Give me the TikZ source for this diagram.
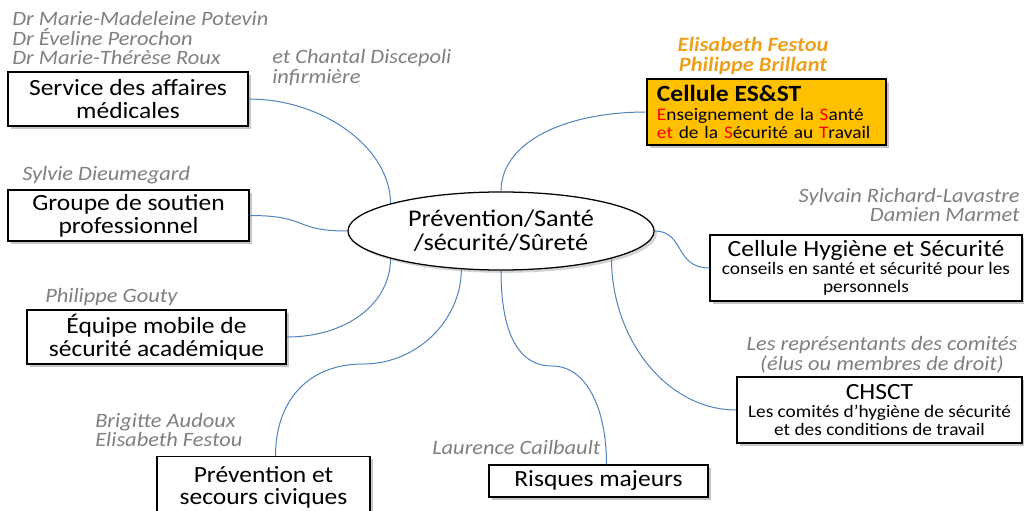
\documentclass[tikz,border=0pt]{standalone}
\usepackage{fontspec}
\setmainfont{Carlito}[FakeStretch=1.1]
\usetikzlibrary{shadows,shapes.geometric,calc}

\definecolor{nomgris}{RGB}{127,127,127}
\definecolor{lienbleu}{RGB}{79,129,189}
\definecolor{cellorange}{RGB}{255,192,0}
\definecolor{nomorange}{RGB}{237,160,30}

\tikzset{
  bloc/.style={draw, line width=0.9pt, fill=white, align=center, inner sep=2pt,
    drop shadow={shadow xshift=2pt, shadow yshift=-2pt, opacity=0.45},
    font=\fontsize{16.5}{16.5}\selectfont},
  sous/.style={font=\fontsize{12.5}{13}\selectfont},
  nom/.style={text=nomgris, inner sep=0pt, font=\itshape\fontsize{14.5}{14.2}\selectfont},
  lien/.style={lienbleu, line width=0.7pt},
}

\begin{document}
\begin{tikzpicture}[x=0.025cm, y=-0.025cm]
    \useasboundingbox (0,0) rectangle (1024,511);
    % centre
    \node[ellipse, draw, line width=0.9pt, fill=white, inner sep=0pt,
      minimum width=7.65cm, minimum height=1.95cm, align=center,
      drop shadow={shadow xshift=2pt, shadow yshift=-2pt, opacity=0.35},
      font=\fontsize{17}{17.2}\selectfont] (cen) at (501,231) {Prévention/Santé\\/sécurité/Sûreté};
    % boites
    \node[bloc, minimum width=6cm, minimum height=1.35cm] (svc) at (128,99) {Service des affaires\\médicales};
    \node[bloc, minimum width=6.025cm, minimum height=1.275cm] (gsp) at (128.5,215.5) {Groupe de soutien\\professionnel};
    \node[bloc, minimum width=6.475cm, minimum height=1.35cm] (emsa) at (156.5,337) {Équipe mobile de\\sécurité académique};
    \node[bloc, minimum width=5.325cm, minimum height=1.55cm, font=\fontsize{16.5}{15.8}\selectfont] (psc) at (263.5,487.5) {Prévention et\\secours civiques};
    \node[bloc, minimum width=5.475cm, minimum height=0.8cm] (rm) at (598.5,481) {Risques majeurs};
    \node[bloc, sous, minimum width=7.125cm, minimum height=1.65cm] (chsct) at (879.5,410)
      {{\fontsize{16.5}{16.5}\selectfont CHSCT}\\Les comités d’hygiène de sécurité\\et des conditions de travail};
    \node[bloc, sous, minimum width=7.8cm, minimum height=1.65cm] (chs) at (866,268)
      {{\fontsize{16.5}{16.5}\selectfont Cellule Hygiène et Sécurité}\\conseils en santé et sécurité pour les\\personnels};
    \node[bloc, sous, fill=cellorange, align=left, text width=5.475cm, inner xsep=0.25cm,
      minimum height=1.65cm] (esst) at (766.5,112)
      {{\bfseries\fontsize{16.5}{16.5}\selectfont Cellule ES\&ST}\\\textcolor{red}{E}nseignement de la \textcolor{red}{S}anté\\\textcolor{red}{et} de la \textcolor{red}{S}écurité au \textcolor{red}{T}ravail};
    % noms
    \node[nom, anchor=west, align=left] (nsvc) at (12,38) {Dr Marie-Madeleine Potevin\\Dr Éveline Perochon\\Dr Marie-Thérèse Roux};
    \node[nom, anchor=west, align=left] (ninf) at (272,68) {et Chantal Discepoli\\infirmière};
    \node[nom, anchor=west] (ngsp) at (22,175) {Sylvie Dieumegard};
    \node[nom, anchor=west] (nemsa) at (45,297) {Philippe Gouty};
    \node[nom, anchor=west, align=left] (npsc) at (95,430) {Brigitte Audoux\\Elisabeth Festou};
    \node[nom, anchor=west] (nrm) at (432,447) {Laurence Cailbault};
    \node[nom, align=center] (nchsct) at (882,355) {Les représentants des comités\\(élus ou membres de droit)};
    \node[nom, anchor=east, align=right] (nchs) at (1020,205) {Sylvain Richard-Lavastre\\Damien Marmet};
    \node[nom, text=nomorange, align=center, font=\bfseries\itshape\fontsize{14.5}{14.2}\selectfont] (nesst) at (753,56) {Elisabeth Festou\\Philippe Brillant};
    % liens
    \coordinate (pscmid) at (363,364);
    \coordinate (rmmid) at (552,366);
    \draw[lien] (svc.east) .. controls +(75,0) and +(0,-55) .. (cen.166);
    \draw[lien] (gsp.east) .. controls +(60,0) and +(-55,0) .. (cen.180);
    \draw[lien] (emsa.east) .. controls +(60,0) and +(0,45) .. (cen.194);
    \draw[lien] ($(psc.north)+(12,0)$) .. controls +(0,-55) and +(-55,0) .. (pscmid)
      .. controls +(55,0) and +(0,50) .. (cen.224);
    \draw[lien] (cen.270) .. controls +(0,60) and +(-35,0) .. (rmmid)
      .. controls +(35,0) and +(0,-55) .. ($(rm.north)+(8,0)$);
    \draw[lien] (cen.346) .. controls +(0,80) and +(-70,0) .. (chsct.west);
    \draw[lien] (cen.0) .. controls +(30,0) and +(-35,0) .. (chs.west);
    \draw[lien] (cen.90) .. controls +(0,-50) and +(-80,0) .. (esst.west);
\end{tikzpicture}
\end{document}
